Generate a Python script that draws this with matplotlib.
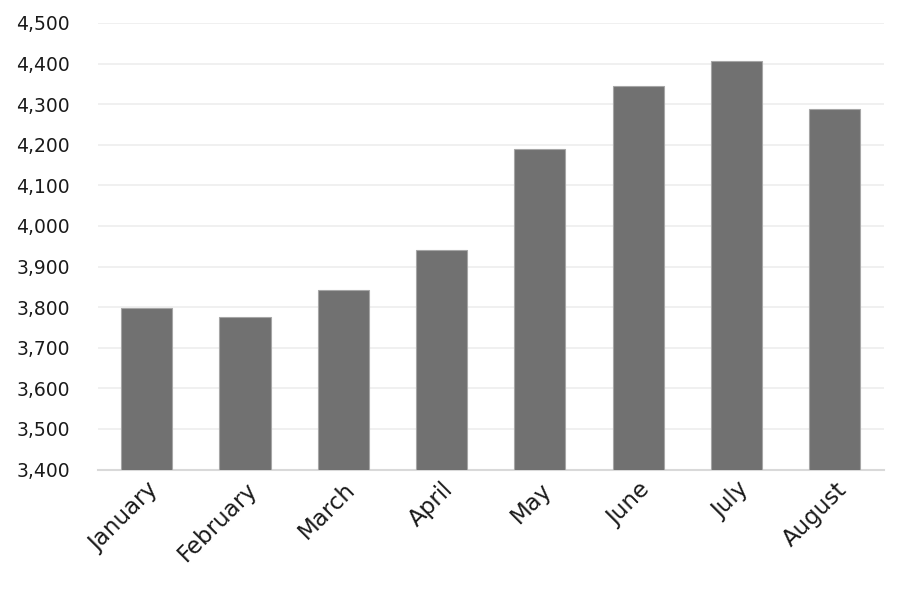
import matplotlib.pyplot as plt
from matplotlib.ticker import FuncFormatter

months = ['January', 'February', 'March', 'April', 'May', 'June', 'July', 'August']
values = [3798, 3776, 3842, 3941, 4190, 4345, 4406, 4288]

plt.rcParams['font.family'] = ['DejaVu Sans']

fig = plt.figure(figsize=(9.06, 5.93), dpi=100)
ax = fig.add_axes([97.5 / 906, 1 - 469.5 / 593, (884 - 97.5) / 906, (469.5 - 23) / 593])

x = range(len(months))
ax.bar(x, values, width=0.52, color='#717171', edgecolor='#a6a6a6', linewidth=0.8, zorder=3)

ax.set_ylim(3400, 4500)
ax.set_xlim(-0.5, len(months) - 0.5)
ax.set_yticks(range(3400, 4501, 100))
ax.yaxis.set_major_formatter(FuncFormatter(lambda v, p: f'{int(v):,}'))
ax.grid(axis='y', color='#eeeeee', linewidth=1.2, zorder=0)

ax.set_xticks(list(x))
ax.set_xticklabels(months, rotation=45, ha='right', va='top', rotation_mode='anchor')

for s in ['top', 'right', 'left']:
    ax.spines[s].set_visible(False)
ax.spines['bottom'].set_color('#d9d9d9')
ax.spines['bottom'].set_linewidth(1.5)
ax.tick_params(axis='both', length=0, colors='#1a1a1a')
ax.tick_params(axis='y', pad=20, labelsize=13.5)
ax.tick_params(axis='x', pad=6, labelsize=16.5)

fig.savefig('out.png', dpi=100)
